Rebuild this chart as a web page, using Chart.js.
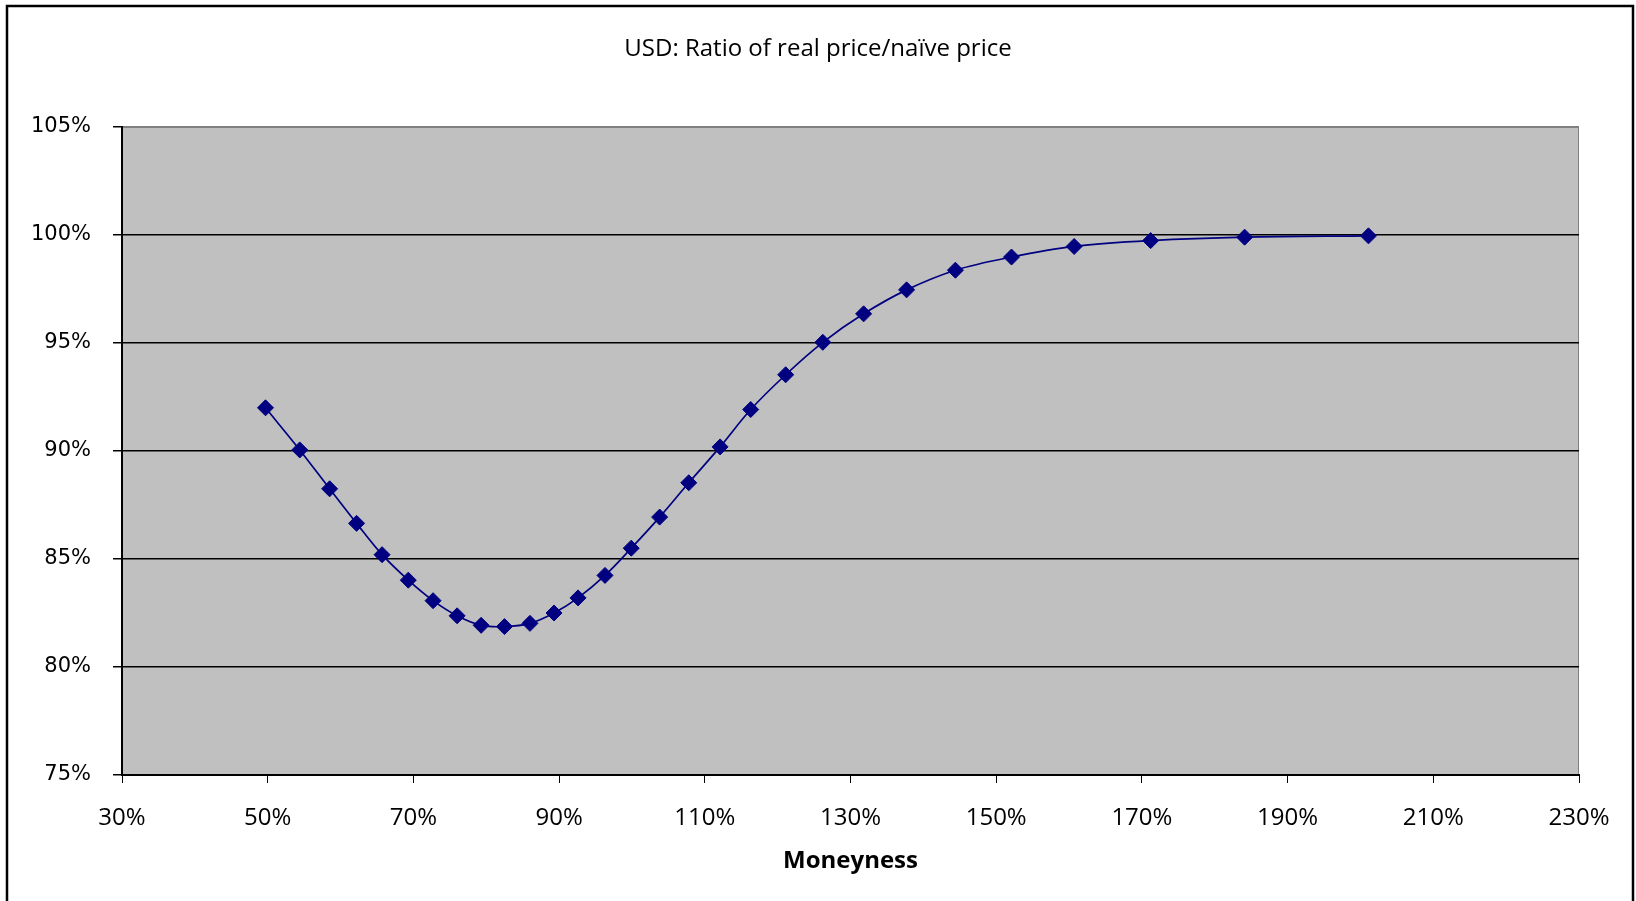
<!DOCTYPE html>
<html>
<head>
<meta charset="utf-8">
<title>USD: Ratio of real price/naïve price</title>
<script src="https://cdn.jsdelivr.net/npm/chart.js@4/dist/chart.umd.min.js"></script>
<style>
  html, body { margin: 0; padding: 0; background: #fff; }
  canvas { display: block; }
</style>
</head>
<body>
<canvas id="ratioChart" width="1636" height="901"></canvas>
<script>
// Moneyness (%) and ratio of real price to naive price (%)
const moneyness = [49.7, 54.4, 58.5, 62.2, 65.7, 69.3, 72.7, 76.0, 79.3, 82.5,
  86.0, 89.3, 92.6, 96.3, 99.9, 103.8, 107.8, 112.1, 116.3, 121.1,
  126.2, 131.8, 137.7, 144.4, 152.1, 160.7, 171.2, 184.1, 201.1];
const ratio = [92.0, 90.05, 88.25, 86.65, 85.2, 84.02, 83.07, 82.37, 81.93, 81.87,
  82.02, 82.5, 83.2, 84.24, 85.5, 86.94, 88.53, 90.19, 91.92, 93.53,
  95.03, 96.35, 97.46, 98.37, 98.98, 99.47, 99.74, 99.9, 99.96];

// Axis ranges and tick steps
const xRange = [30, 230];
const xStep = 20;
const yRange = [75, 105];
const yStep = 5;

const chartTitle = 'USD: Ratio of real price/naïve price';

const points = moneyness.map((m, i) => ({ x: m, y: ratio[i] }));

// grey plot background, thin grey plot border, outer frame and the title
// (the title is centred on the whole picture, not on the plot, so it is drawn here)
const frame = {
  id: 'frame',
  beforeDraw(chart) {
    const { ctx, chartArea: a } = chart;
    ctx.save();
    ctx.fillStyle = '#c0c0c0';
    ctx.fillRect(a.left, a.top, a.right - a.left, a.bottom - a.top);
    ctx.strokeStyle = '#808080';
    ctx.lineWidth = 1;
    ctx.strokeRect(a.left + 0.5, a.top + 0.5, a.right - a.left - 1, a.bottom - a.top - 1);
    ctx.strokeStyle = '#000';
    ctx.lineWidth = 2.5;
    ctx.beginPath();
    ctx.moveTo(7, 910);
    ctx.lineTo(7, 6);
    ctx.lineTo(1633, 6);
    ctx.lineTo(1633, 910);
    ctx.stroke();

    ctx.fillStyle = '#000';
    ctx.font = '24px "Open Sans"';
    ctx.textAlign = 'center';
    ctx.textBaseline = 'middle';
    ctx.fillText(chartTitle, chart.width / 2, 49);
    ctx.restore();
  }
};

const ctx = document.getElementById('ratioChart').getContext('2d');
const ratioChart = new Chart(ctx, {
  type: 'line',
  data: {
    datasets: [{
      label: 'Ratio',
      data: points,
      borderColor: '#000080',
      backgroundColor: '#000080',
      borderWidth: 1.7,
      tension: 0.35,
      pointStyle: 'rectRot',
      pointRadius: 8,
      pointBorderWidth: 1,
      pointBackgroundColor: '#000080',
      pointBorderColor: '#000080',
      fill: false
    }]
  },
  options: {
    responsive: false,
    animation: false,
    devicePixelRatio: 1,
    layout: { padding: { left: 0, right: 57, top: 127, bottom: 0 } },
    plugins: {
      legend: { display: false },
      tooltip: { enabled: false },
      title: { display: false }
    },
    scales: {
      x: {
        type: 'linear',
        min: xRange[0],
        max: xRange[1],
        afterFit(scale) { scale.height = 126; },
        border: { display: true, color: '#000', width: 2 },
        grid: {
          drawOnChartArea: false,
          drawTicks: true,
          tickLength: 8,
          tickColor: '#000',
          tickWidth: 1
        },
        ticks: {
          stepSize: xStep,
          autoSkip: false,
          maxRotation: 0,
          padding: 21,
          color: '#000',
          font: { family: 'Open Sans', size: 24 },
          callback: v => v + '%'
        },
        title: {
          display: true,
          text: 'Moneyness',
          color: '#000',
          font: { family: 'Open Sans', size: 24, weight: 'bold' },
          padding: { top: 0, bottom: 25 }
        }
      },
      y: {
        min: yRange[0],
        max: yRange[1],
        afterFit(scale) { scale.width = 122; },
        border: { display: true, color: '#000', width: 2 },
        grid: {
          color: c => (c.tick && c.tick.value === yRange[1]) ? '#808080' : '#000',
          lineWidth: 1.5,
          drawTicks: true,
          tickLength: 9,
          tickColor: '#000'
        },
        ticks: {
          stepSize: yStep,
          padding: 22,
          color: '#000',
          font: { family: 'DejaVu Sans', size: 21 },
          callback: v => v + '%'
        }
      }
    }
  },
  plugins: [frame]
});
</script>
</body>
</html>
